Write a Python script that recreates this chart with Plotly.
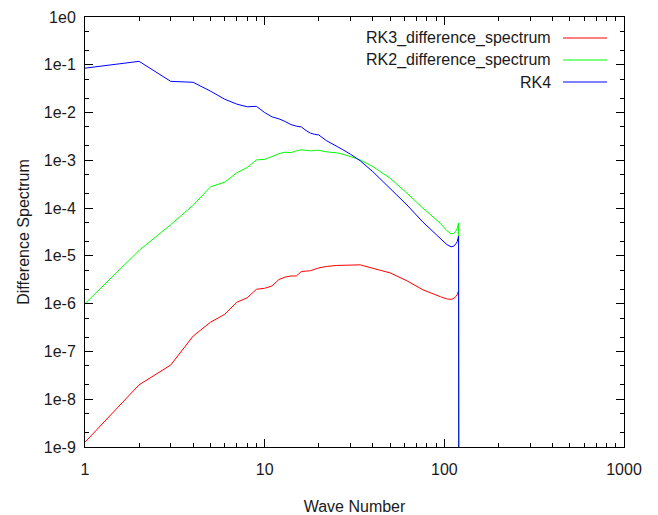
import plotly.graph_objects as go

# ---- data ----
k_rk3 = [1, 2, 3, 4, 5, 6, 7, 8, 9, 10, 11, 12, 13, 14, 15, 16, 17, 18, 20, 22, 25, 30, 34,
         40, 50, 62, 76, 95, 103, 109, 113, 116, 118, 120, 121]
v_rk3 = [1.26e-9, 2.0e-8, 5.2e-8, 2.1e-7, 4.1e-7, 6.0e-7, 1.07e-6, 1.33e-6, 2.0e-6, 2.1e-6,
         2.35e-6, 3.2e-6, 3.6e-6, 3.8e-6, 3.8e-6, 4.7e-6, 4.8e-6, 4.9e-6, 5.6e-6, 6.0e-6,
         6.3e-6, 6.5e-6, 6.5e-6, 5.5e-6, 4.4e-6, 3.0e-6, 1.95e-6, 1.4e-6, 1.26e-6, 1.23e-6,
         1.29e-6, 1.41e-6, 1.55e-6, 1.9e-6, 1e-20]

k_rk2 = [1, 2, 3, 4, 5, 6, 7, 8, 9, 10, 11, 12, 13, 14, 15, 16, 17, 18, 19, 20, 22, 26, 30,
         34, 40, 50, 62, 76, 95, 103, 109, 113, 116, 118, 120, 121]
v_rk2 = [1.0e-6, 1.3e-5, 4.5e-5, 1.15e-4, 2.8e-4, 3.5e-4, 5.5e-4, 7.1e-4, 1.02e-3, 1.05e-3,
         1.2e-3, 1.38e-3, 1.48e-3, 1.45e-3, 1.58e-3, 1.66e-3, 1.62e-3, 1.58e-3, 1.62e-3,
         1.62e-3, 1.51e-3, 1.41e-3, 1.2e-3, 1.02e-3, 7.4e-4, 4.2e-4, 2.05e-4, 1.0e-4, 4.8e-5,
         3.4e-5, 2.9e-5, 2.95e-5, 3.3e-5, 3.8e-5, 4.9e-5, 1e-20]

k_rk4 = [1, 2, 3, 4, 5, 6, 7, 8, 9, 10, 11, 12, 13, 14, 15, 16, 17, 18, 19, 20, 22, 24, 27,
         30, 34, 40, 50, 62, 76, 95, 103, 109, 113, 116, 118, 120, 121]
v_rk4 = [8.5e-2, 1.18e-1, 4.5e-2, 4.3e-2, 2.8e-2, 1.9e-2, 1.5e-2, 1.32e-2, 1.35e-2, 1.0e-2,
         8.1e-3, 7.4e-3, 6.5e-3, 5.6e-3, 5.2e-3, 5.0e-3, 4.2e-3, 3.7e-3, 3.5e-3, 3.4e-3,
         2.6e-3, 2.2e-3, 1.7e-3, 1.35e-3, 9.8e-4, 5.8e-4, 2.6e-4, 1.16e-4, 5.1e-5, 2.35e-5,
         1.74e-5, 1.55e-5, 1.6e-5, 1.8e-5, 2.0e-5, 2.6e-5, 1e-20]

series_names = ["RK3_difference_spectrum", "RK2_difference_spectrum", "RK4"]
series_colors = ["#ff0000", "#00ff00", "#0000ff"]

x_tickvals = [1, 10, 100, 1000]
x_ticktext = ["1", "10", "100", "1000"]
y_tickvals = [1e-9, 1e-8, 1e-7, 1e-6, 1e-5, 1e-4, 1e-3, 1e-2, 1e-1, 1e0]
y_ticktext = ["1e-9", "1e-8", "1e-7", "1e-6", "1e-5", "1e-4", "1e-3", "1e-2", "1e-1", "1e0"]

x_minor = [m * d for d in (1, 10, 100) for m in range(2, 10)]
y_minor = [m * 10.0 ** e for e in range(-9, 0) for m in (2, 5)]

FONT = "Liberation Sans, Arial, sans-serif"
TXT = "#1a1a1a"

fig = go.Figure()
for kk, vv, name, col in zip([k_rk3, k_rk2, k_rk4], [v_rk3, v_rk2, v_rk4], series_names, series_colors):
    fig.add_trace(go.Scatter(x=kk, y=vv, mode="lines", name=name,
                             line=dict(color=col, width=1), showlegend=False))

axis_common = dict(
    type="log", showgrid=False, zeroline=False, showline=True, linecolor="black",
    linewidth=1, mirror="ticks", ticks="inside", ticklen=8, tickcolor="black",
    tickwidth=1, tickmode="array", automargin=False,
    tickfont=dict(family=FONT, size=16, color=TXT),
)
fig.update_xaxes(**axis_common, range=[0, 3], tickvals=x_tickvals, ticktext=x_ticktext,
                 minor=dict(tickmode="array", tickvals=x_minor, ticks="inside", ticklen=4,
                            tickcolor="black", tickwidth=1),
                 ticklabelstandoff=8,
                 title=dict(text="Wave Number", font=dict(family=FONT, size=16, color=TXT),
                            standoff=26))
fig.update_yaxes(**axis_common, range=[-9, 0], tickvals=y_tickvals, ticktext=y_ticktext,
                 minor=dict(tickmode="array", tickvals=y_minor, ticks="inside", ticklen=4,
                            tickcolor="black", tickwidth=1),
                 ticklabelstandoff=5,
                 title=dict(text="Difference Spectrum", font=dict(family=FONT, size=16, color=TXT),
                            standoff=10))

# gnuplot-style key: text right-aligned, line sample to its right
row_y = [38, 60, 82]
for name, col, yy in zip(series_names, series_colors, row_y):
    yp = 1 - (yy - 17) / (447 - 17)
    fig.add_annotation(xref="paper", yref="paper", x=(553 - 85) / (624 - 85), y=yp,
                       text=name, showarrow=False, xanchor="right", yanchor="middle",
                       font=dict(family=FONT, size=16, color=TXT))
    fig.add_shape(type="line", xref="paper", yref="paper",
                  x0=(563 - 85) / (624 - 85), x1=(607 - 85) / (624 - 85), y0=yp, y1=yp,
                  line=dict(color=col, width=1))

fig.update_layout(width=658, height=515, plot_bgcolor="white", paper_bgcolor="white",
                  margin=dict(l=85, r=34, t=17, b=68), showlegend=False)

fig.write_html("out.html", config={"displayModeBar": False},
               post_script="document.body.style.margin='0';")
